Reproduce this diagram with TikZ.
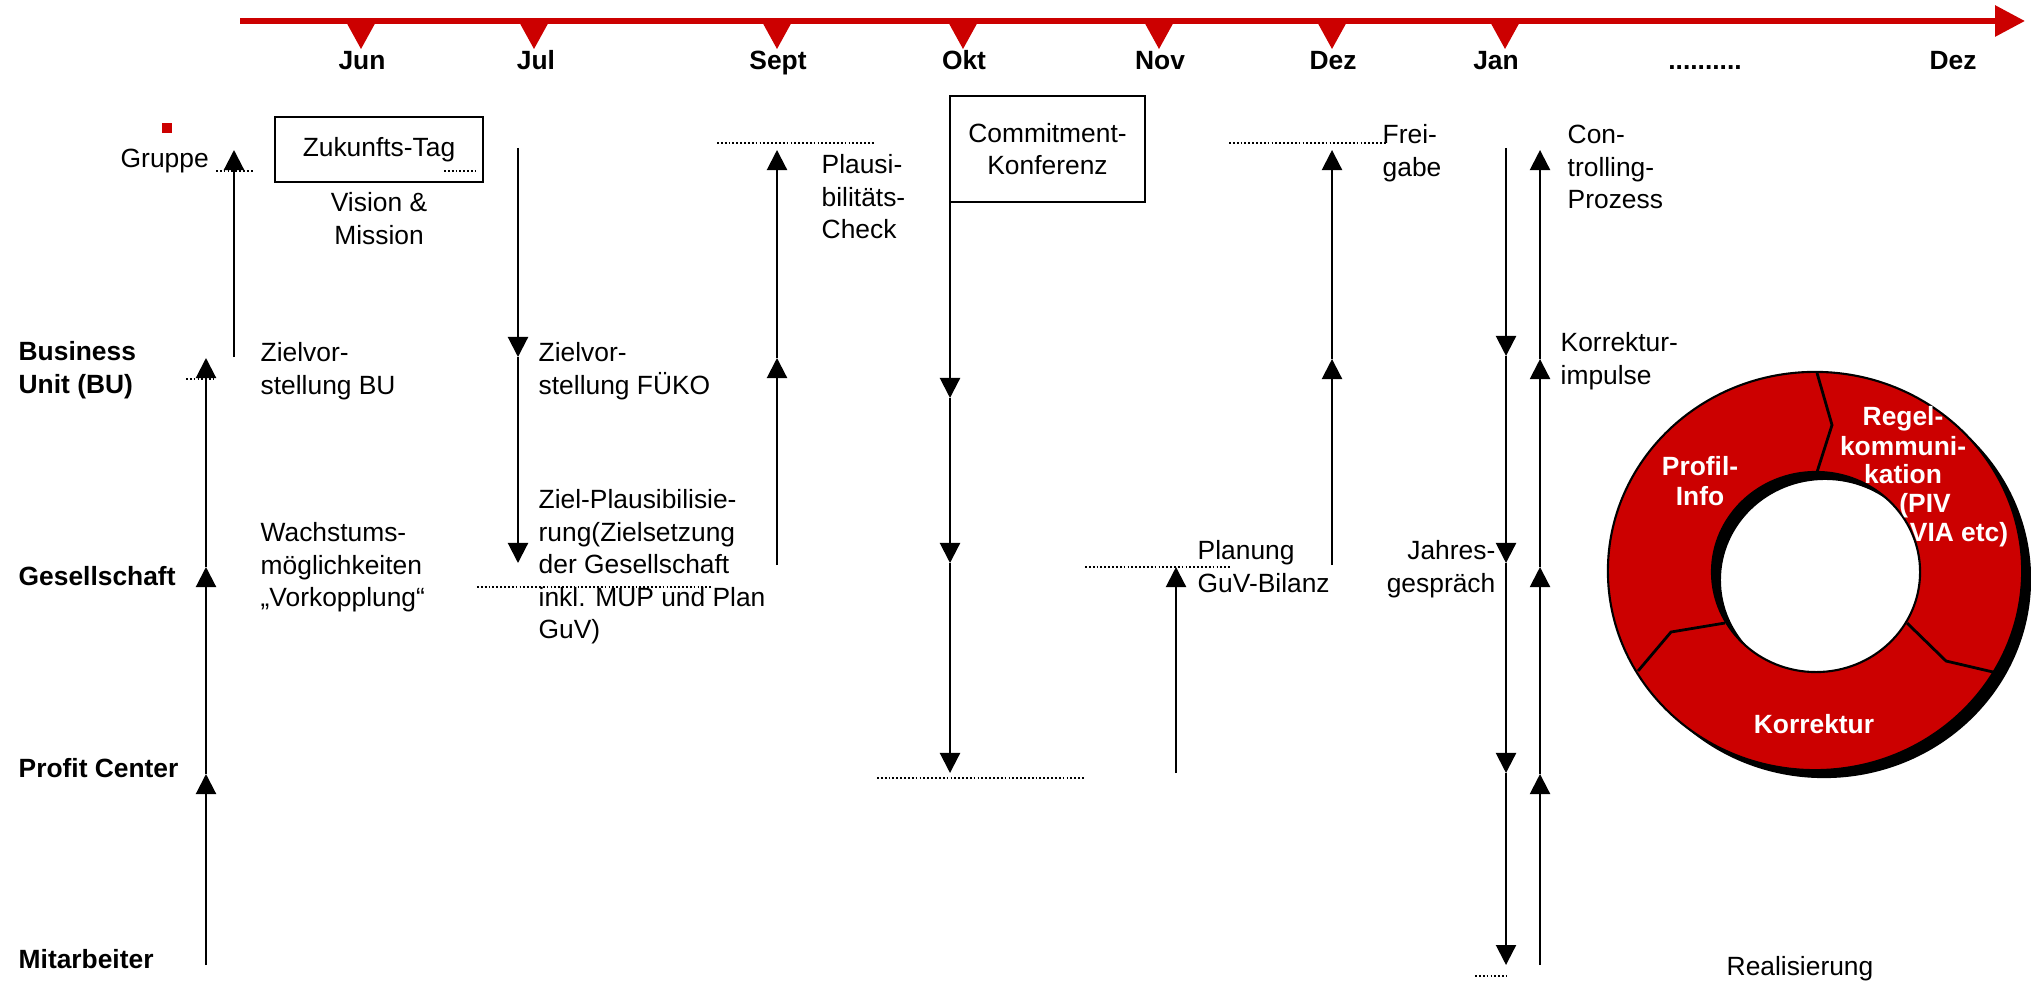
\documentclass[tikz,border=0pt]{standalone}
\usepackage{fontspec}
\setmainfont{Liberation Sans}
\usetikzlibrary{arrows.meta}
\definecolor{dred}{RGB}{204,0,0}
\begin{document}
\begin{tikzpicture}[x=0.01cm,y=-0.01cm,
  txt/.style={inner sep=0pt, font=\fontsize{7.5}{9.25}\selectfont, align=left},
  lvl/.style={inner sep=0pt, font=\fontsize{7.5}{9.25}\selectfont\bfseries, align=left},
  mon/.style={inner sep=0pt, font=\fontsize{7.5}{9.25}\selectfont\bfseries, anchor=base},
  box/.style={draw, line width=0.8pt, inner sep=0pt, font=\fontsize{7.5}{9.25}\selectfont, align=center},
  flow/.style={line width=0.6pt, -{Triangle[width=0.2cm,length=0.2cm]}},
  dots/.style={line width=0.5pt, dash pattern=on 0.5pt off 0.6pt},
  dlab/.style={inner sep=0pt, text=white, font=\fontsize{7.5}{8.5}\selectfont\bfseries, anchor=base},
]
\useasboundingbox[fill=white] (0,0) rectangle (2031,982);

% timeline
\coordinate (tl0) at (240,21);
\coordinate (tl1) at (2025,21);
\draw[dred, line width=0.06cm, -{Triangle[width=0.30cm,length=0.30cm]}] (tl0) -- (tl1);
\foreach \cx in {361,534,777,963,1159,1332,1505}
  \fill[dred] (\cx-16.5,19) -- (\cx+16.5,19) -- (\cx,49) -- cycle;
\node[mon] (mjun) at (362,70) {Jun};
\node[mon] (mjul) at (536,70) {Jul};
\node[mon] (msep) at (778,70) {Sept};
\node[mon] (mokt) at (964,70) {Okt};
\node[mon] (mnov) at (1160,70) {Nov};
\node[mon] (mdez) at (1333,70) {Dez};
\node[mon] (mjan) at (1496,70) {Jan};
\node[mon] (mdot) at (1705,70) {..........};
\node[mon] (mdez2) at (1953,70) {Dez};

% levels
\node[fill=dred, minimum size=0.1cm, inner sep=0pt] (sq) at (167,128) {};
\node[txt, anchor=base west] (gr) at (120,168) {Gruppe};
\node[lvl, anchor=north west] (bu) at (18,337) {\strut Business\\\strut Unit (BU)};
\node[lvl, anchor=base west] (ges) at (18,585) {Gesellschaft};
\node[lvl, anchor=base west] (pc) at (18,777) {Profit Center};
\node[lvl, anchor=base west] (ma) at (18,968) {Mitarbeiter};

% boxes
\node[box, minimum width=2.08cm, minimum height=0.65cm] (zt) at (379,149.5) {Zukunfts-Tag};
\node[box, minimum width=1.95cm, minimum height=1.06cm] (ck) at (1047.5,149) {Commitment-\\Konferenz};

% texts
\node[txt, align=center, anchor=north] (vm) at (379,188) {\strut Vision \&\\\strut Mission};
\node[txt, anchor=north west] (zbu) at (260,338) {\strut Zielvor-\\\strut stellung BU};
\node[txt, anchor=north west] (zfk) at (538,338) {\strut Zielvor-\\\strut stellung FÜKO};
\node[txt, anchor=north west] (wm) at (260,518) {\strut Wachstums-\\\strut möglichkeiten\\\strut „Vorkopplung“};
\node[txt, anchor=north west] (zp) at (538,485) {\strut Ziel-Plausibilisie-\\\strut rung(Zielsetzung\\\strut der Gesellschaft\\\strut inkl. MUP und Plan\\\strut GuV)};
\node[txt, anchor=north west] (pl) at (821,150) {\strut Plausi-\\\strut bilitäts-\\\strut Check};
\node[txt, anchor=north west] (fg) at (1382,120) {\strut Frei-\\\strut gabe};
\node[txt, anchor=north west] (cp) at (1567,120) {\strut Con-\\\strut trolling-\\\strut Prozess};
\node[txt, anchor=north west] (ki) at (1560,328) {\strut Korrektur-\\\strut impulse};
\node[txt, anchor=north west] (pg) at (1197,536) {\strut Planung\\\strut GuV-Bilanz};
\node[txt, align=right, anchor=north east] (jg) at (1496,536) {\strut Jahres-\\\strut gespräch};
\node[txt, anchor=base] (rl) at (1800,975) {Realisierung};

% dotted lines
\draw[dots] (216,171) -- (254,171);
\draw[dots] (444,171) -- (475,171);
\draw[dots] (186,379) -- (214,379);
\draw[dots] (477,587) -- (712,587);
\draw[dots] (717,143) -- (875,143);
\draw[dots] (1229,143) -- (1386,143);
\draw[dots] (1085,567) -- (1230,567);
\draw[dots] (877,778) -- (1084,778);
\draw[dots] (1475,976) -- (1506,976);

% arrows
\coordinate (a0) at (206,965); \coordinate (a1) at (206,774);
\coordinate (a2) at (206,567); \coordinate (a3) at (206,358);
\draw[flow] (a0) -- (a1); \draw[flow] (a1) -- (a2); \draw[flow] (a2) -- (a3);
\coordinate (g0) at (234,357); \coordinate (g1) at (234,150);
\draw[flow] (g0) -- (g1);
\coordinate (j0) at (518,148); \coordinate (j1) at (518,357); \coordinate (j2) at (518,563);
\draw[flow] (j0) -- (j1); \draw[flow] (j1) -- (j2);
\coordinate (s0) at (777,565); \coordinate (s1) at (777,358); \coordinate (s2) at (777,150);
\draw[flow] (s0) -- (s1); \draw[flow] (s1) -- (s2);
\coordinate (o1) at (950,398); \coordinate (o2) at (950,563); \coordinate (o3) at (950,773);
\draw[flow] (ck.south -| o1) -- (o1); \draw[flow] (o1) -- (o2); \draw[flow] (o2) -- (o3);
\coordinate (n0) at (1176,773); \coordinate (n1) at (1176,567);
\draw[flow] (n0) -- (n1);
\coordinate (d0) at (1332,565); \coordinate (d1) at (1332,359); \coordinate (d2) at (1332,150);
\draw[flow] (d0) -- (d1); \draw[flow] (d1) -- (d2);
\coordinate (k0) at (1506,148); \coordinate (k1) at (1506,356); \coordinate (k2) at (1506,563);
\coordinate (k3) at (1506,773); \coordinate (k4) at (1506,965);
\draw[flow] (k0) -- (k1); \draw[flow] (k1) -- (k2); \draw[flow] (k2) -- (k3); \draw[flow] (k3) -- (k4);
\coordinate (u0) at (1540,965); \coordinate (u1) at (1540,774); \coordinate (u2) at (1540,567);
\coordinate (u3) at (1540,359); \coordinate (u4) at (1540,150);
\draw[flow] (u0) -- (u1); \draw[flow] (u1) -- (u2); \draw[flow] (u2) -- (u3); \draw[flow] (u3) -- (u4);

% donut
\fill[black, even odd rule] (1824,579) ellipse [x radius=2.07cm, y radius=1.99cm]
  (1825,580) ellipse [x radius=1.04cm, y radius=1.00cm];
\filldraw[fill=dred, draw=black, line width=0.6pt, even odd rule] (1815,571) ellipse [x radius=2.07cm, y radius=1.99cm]
  (1816,572) ellipse [x radius=1.04cm, y radius=1.00cm];
\draw[line width=0.8pt] (1817,373) -- (1832,425) -- (1817,472);
\draw[line width=0.8pt] (1725,623) -- (1671,632) -- (1638,671);
\draw[line width=0.8pt] (1907,623) -- (1946,661) -- (1993,672);
\node[dlab] (p1) at (1700,475) {Profil-};
\node[dlab] (p2) at (1700,505) {Info};
\node[dlab] (r1) at (1903,425) {Regel-};
\node[dlab] (r2) at (1903,455) {kommuni-};
\node[dlab] (r3) at (1903,483) {kation};
\node[dlab] (r4) at (1925,512) {(PIV};
\node[dlab] (r5) at (1959,541) {VIA etc)};
\node[dlab] (kr) at (1814,733) {Korrektur};
\end{tikzpicture}
\end{document}
